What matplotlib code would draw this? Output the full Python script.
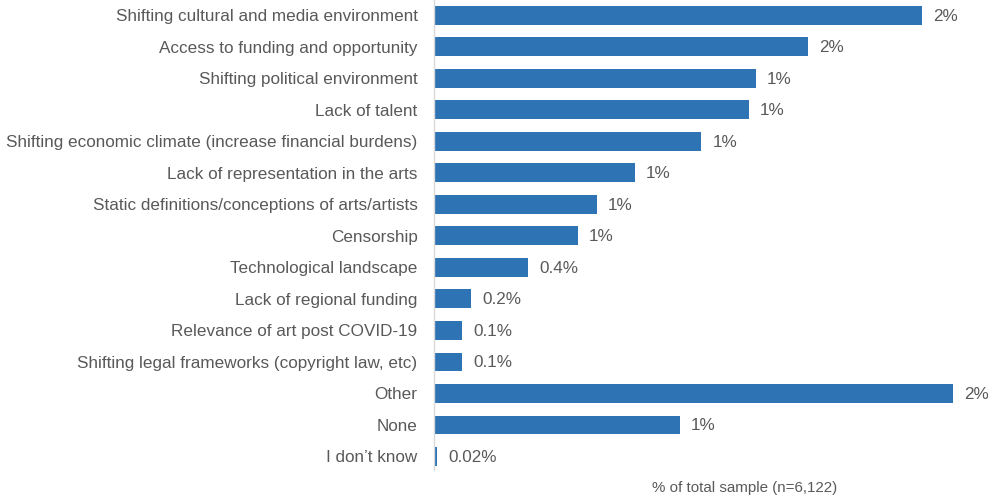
import matplotlib.pyplot as plt

# share of total sample (%), one bar per response
categories = [
    'Shifting cultural and media environment',
    'Access to funding and opportunity',
    'Shifting political environment',
    'Lack of talent',
    'Shifting economic climate (increase financial burdens)',
    'Lack of representation in the arts',
    'Static definitions/conceptions of arts/artists',
    'Censorship',
    'Technological landscape',
    'Lack of regional funding',
    'Relevance of art post COVID-19',
    'Shifting legal frameworks (copyright law, etc)',
    'Other',
    'None',
    'I don\u2019t know',
]
values = [2.06, 1.58, 1.36, 1.33, 1.13, 0.85, 0.69, 0.61, 0.40,
          0.16, 0.12, 0.12, 2.19, 1.04, 0.016]
footnote = '% of total sample (n=6,122)'


def fmt(v):
    if v >= 0.5:
        return f'{v:.0f}%'
    if v >= 0.05:
        return f'{v:.1f}%'
    return f'{v:.2f}%'


plt.rcParams['font.family'] = ['Liberation Sans', 'DejaVu Sans']
text_col = '#595959'
bar_col = '#2e74b5'

fig = plt.figure(figsize=(9.88, 4.99), dpi=100)
ax = fig.add_axes([433.5 / 988, 1 - 470 / 499, 1 - 433.5 / 988, 470 / 499])

ypos = list(range(len(categories)))
ax.barh(ypos, values, height=0.6, color=bar_col)

for y, v in zip(ypos, values):
    ax.annotate(fmt(v), (v, y), xytext=(8, -0.5), textcoords='offset points',
                va='center', ha='left', fontsize=12.3, color=text_col)

ax.set_yticks(ypos)
ax.set_yticklabels(categories, fontsize=12.3, color=text_col)
ax.tick_params(axis='y', length=0, pad=11.5)
ax.set_xticks([])
ax.set_xlim(0, 554.5 / 237)
ax.set_ylim(14.43, -0.49)

for s in ['top', 'right', 'bottom']:
    ax.spines[s].set_visible(False)
ax.spines['left'].set_color('#d9d9d9')
ax.spines['left'].set_linewidth(1)

fig.text(745 / 988, 1 - 488 / 499, footnote, ha='center', va='center',
         fontsize=10.9, color=text_col)

fig.savefig('out.png', dpi=100)
